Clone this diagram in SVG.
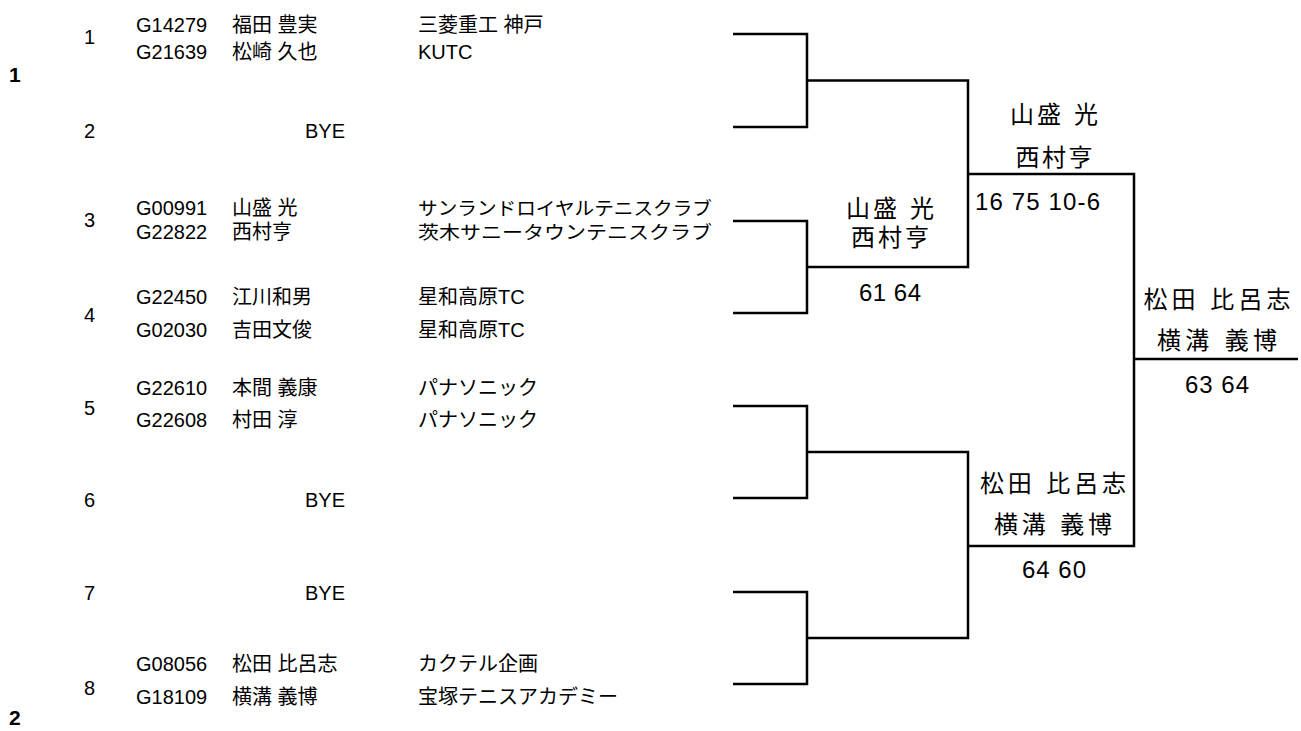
<svg xmlns="http://www.w3.org/2000/svg" width="1301" height="731" viewBox="0 0 1301 731">
<style>
text{font-family:"Liberation Sans","Noto Sans CJK JP",sans-serif;fill:#000}
.e{font-size:20px}
.k{font-size:18.5px}
.w{font-size:24px;text-anchor:middle}
.s{font-size:24px}
.b{font-size:21px;font-weight:bold}
.c{fill:none;stroke:#000;stroke-width:2.5}
</style>
<rect width="1301" height="731" fill="#fff"/>
<g id="block-labels">
<text class="b" x="9" y="82">1</text>
<text class="b" x="9" y="725">2</text>
</g>
<g id="entry1"><text class="e" x="84" y="44">1</text>
<text class="e" x="136" y="32">G14279</text><text class="e" x="232" y="32">福田 豊実</text><text class="e" x="418" y="32">三菱重工 神戸</text>
<text class="e" x="136" y="59">G21639</text><text class="e" x="232" y="59">松崎 久也</text><text class="e" x="418" y="59">KUTC</text></g>
<g id="entry2"><text class="e" x="84" y="138">2</text><text class="e" x="305" y="138">BYE</text></g>
<g id="entry3"><text class="e" x="84" y="227">3</text>
<text class="e" x="136" y="215">G00991</text><text class="e" x="232" y="215">山盛 光</text><text class="k" x="418" y="215" textLength="294" lengthAdjust="spacingAndGlyphs">サンランドロイヤルテニスクラブ</text>
<text class="e" x="136" y="239">G22822</text><text class="e" x="232" y="239">西村亨</text><text class="k" x="418" y="239" textLength="294" lengthAdjust="spacingAndGlyphs">茨木サニータウンテニスクラブ</text></g>
<g id="entry4"><text class="e" x="84" y="322">4</text>
<text class="e" x="136" y="304">G22450</text><text class="e" x="232" y="304">江川和男</text><text class="e" x="418" y="304">星和高原TC</text>
<text class="e" x="136" y="337">G02030</text><text class="e" x="232" y="337">吉田文俊</text><text class="e" x="418" y="337">星和高原TC</text></g>
<g id="entry5"><text class="e" x="84" y="415">5</text>
<text class="e" x="136" y="395">G22610</text><text class="e" x="232" y="395">本間 義康</text><text class="e" x="418" y="395">パナソニック</text>
<text class="e" x="136" y="427">G22608</text><text class="e" x="232" y="427">村田 淳</text><text class="e" x="418" y="427">パナソニック</text></g>
<g id="entry6"><text class="e" x="84" y="507">6</text><text class="e" x="305" y="507">BYE</text></g>
<g id="entry7"><text class="e" x="84" y="600">7</text><text class="e" x="305" y="600">BYE</text></g>
<g id="entry8"><text class="e" x="84" y="695">8</text>
<text class="e" x="136" y="671">G08056</text><text class="e" x="232" y="671">松田 比呂志</text><text class="e" x="418" y="671">カクテル企画</text>
<text class="e" x="136" y="704">G18109</text><text class="e" x="232" y="704">横溝 義博</text><text class="e" x="418" y="704">宝塚テニスアカデミー</text></g>
<g id="connectors">
<path class="c" d="M733 34H807V127H733M807 80.5H968V267H807M733 221H807V313H733"/>
<path class="c" d="M733 406H807V498H733M807 452H968V638H807M733 592H807V684H733"/>
<path class="c" d="M968 174H1134V546H968M1134 359H1298"/>
</g>
<g id="r2-top"><text class="w" x="890" y="217" textLength="88">山盛 光</text><text class="w" x="890" y="246" textLength="78">西村亨</text><text class="w" x="890" y="301" textLength="62">61 64</text></g>
<g id="r3-top"><text class="w" x="1054" y="123" textLength="88">山盛 光</text><text class="w" x="1054" y="166" textLength="77">西村亨</text><text class="s" x="975" y="210" textLength="125">16 75 10-6</text></g>
<g id="r3-bottom"><text class="w" x="1053" y="492" textLength="146">松田 比呂志</text><text class="w" x="1053" y="533" textLength="118">横溝 義博</text><text class="w" x="1054" y="578" textLength="64">64 60</text></g>
<g id="champion"><text class="w" x="1217" y="308" textLength="147">松田 比呂志</text><text class="w" x="1217" y="349" textLength="120">横溝 義博</text><text class="w" x="1217" y="393" textLength="64">63 64</text></g>
</svg>
